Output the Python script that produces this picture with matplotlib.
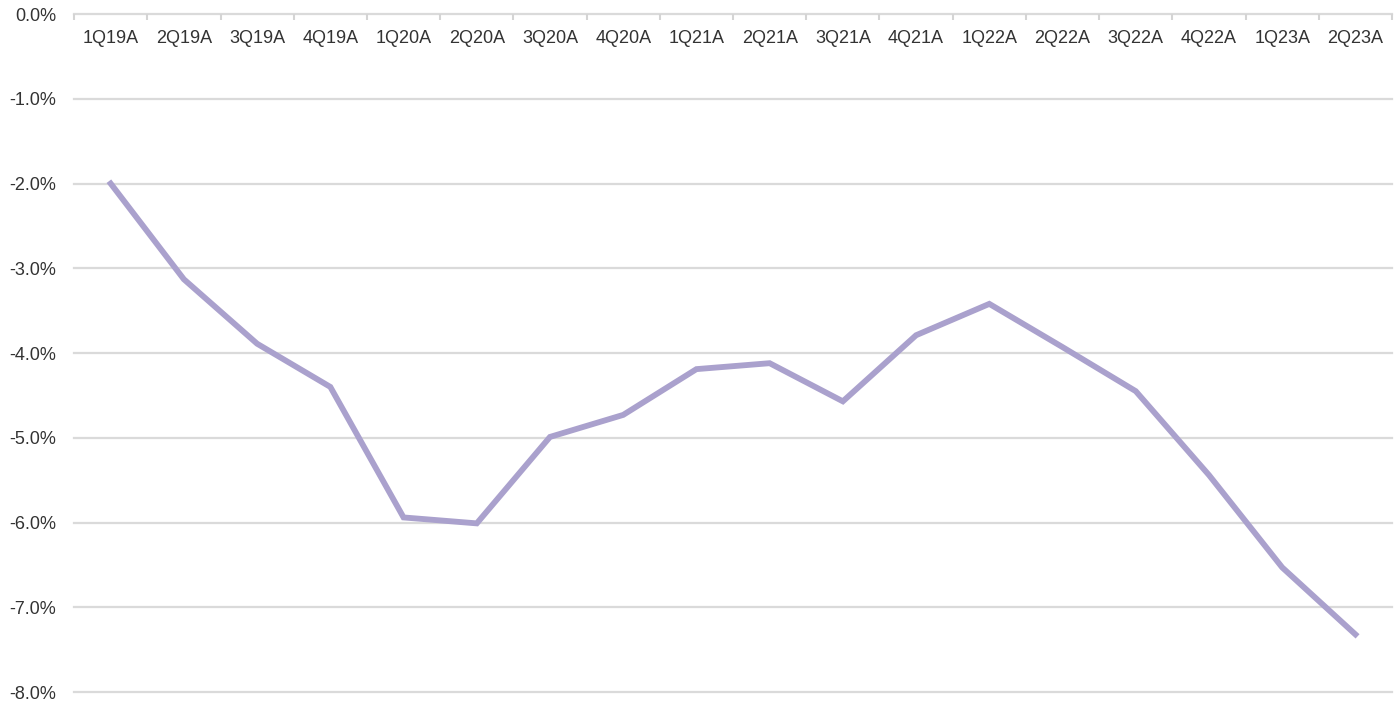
import matplotlib.pyplot as plt
import numpy as np

quarters = ['1Q19A', '2Q19A', '3Q19A', '4Q19A', '1Q20A', '2Q20A', '3Q20A', '4Q20A', '1Q21A',
            '2Q21A', '3Q21A', '4Q21A', '1Q22A', '2Q22A', '3Q22A', '4Q22A', '1Q23A', '2Q23A']
values = [-2.00, -3.13, -3.89, -4.40, -5.94, -6.01, -4.99, -4.73, -4.19,
          -4.12, -4.57, -3.79, -3.42, -3.93, -4.45, -5.44, -6.53, -7.32]
y_ticks = [0, -1, -2, -3, -4, -5, -6, -7, -8]

plt.rcParams['font.family'] = ['Liberation Sans', 'DejaVu Sans']

fig = plt.figure(figsize=(14, 7.05), dpi=100)
ax = fig.add_axes([0.0529, 0.0184, 0.9414, 0.9617])

x = np.arange(len(quarters))
ax.plot(x, values, color='#aaa1cd', lw=4.2, solid_joinstyle='miter', zorder=3)

ax.set_xlim(-0.5, len(quarters) - 0.5)
ax.set_ylim(-8, 0)

# horizontal grid
for v in y_ticks:
    ax.axhline(v, color='#dadada', lw=1.6, zorder=1, clip_on=False)

ax.set_yticks(y_ticks)
ax.set_yticklabels([f'{v:.1f}%' for v in y_ticks], fontsize=13, color='#333333')
ax.tick_params(axis='y', length=0, pad=13)

# boundary ticks on top line
ax.set_xticks(np.arange(len(quarters) + 1) - 0.5)
ax.set_xticklabels([])
ax.xaxis.set_ticks_position('top')
ax.tick_params(axis='x', direction='in', length=4, width=1.5, color='#d4d4d4')

for i, q in enumerate(quarters):
    ax.text(i, -0.29, q, ha='center', va='center', fontsize=13, color='#333333')

for s in ax.spines.values():
    s.set_visible(False)

fig.savefig('out.png', dpi=100)
